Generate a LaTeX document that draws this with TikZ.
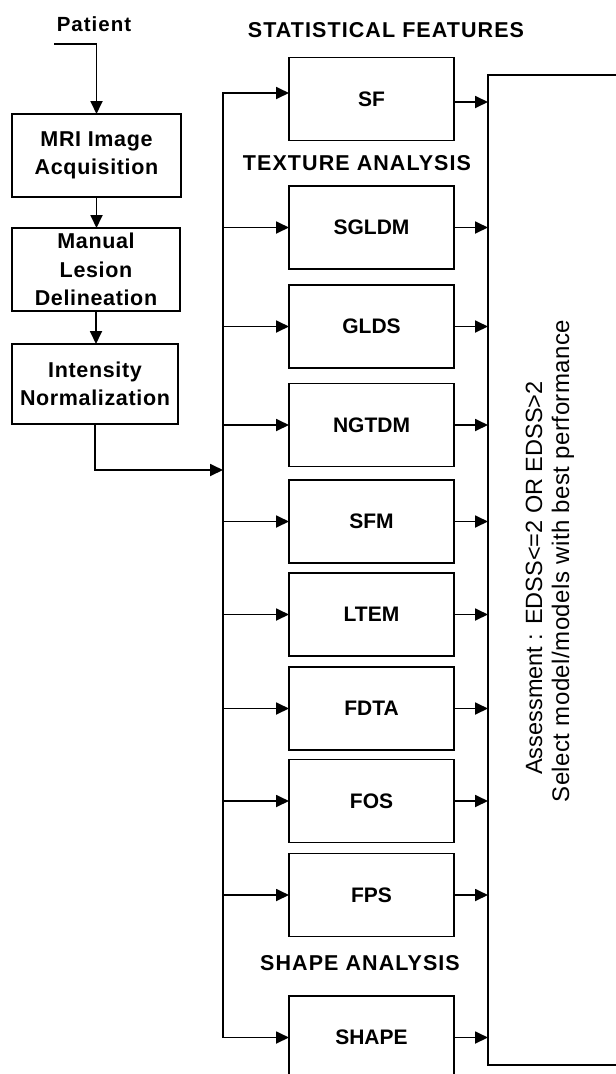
\documentclass[tikz,border=0pt]{standalone}
\usepackage{fontspec}
\setmainfont{Liberation Sans}
\newfontfamily\spacedfont[LetterSpace=5]{Liberation Sans}
\newfontfamily\lsfont[LetterSpace=3]{Liberation Sans}
\newfontfamily\rotfont[LetterSpace=2]{Liberation Sans}
\usetikzlibrary{arrows.meta}
\begin{document}
\begin{tikzpicture}[x=1pt,y=-1pt,
  every node/.style={inner sep=0pt, outer sep=0pt},
  lbox/.style={draw, line width=1.9pt, align=center, font=\lsfont\bfseries\fontsize{21.5}{28.5}\selectfont},
  featbox/.style={draw, line width=1.9pt, minimum width=165pt, minimum height=83pt, font=\bfseries\fontsize{21}{24}\selectfont},
  head/.style={font=\spacedfont\bfseries\fontsize{21.5}{24}\selectfont},
  arr/.style={line width=1.8pt, -{Triangle[length=13pt,width=12pt]}},
  ln/.style={line width=1.8pt}
]
\useasboundingbox (0,0) rectangle (616,1074);
\clip (0,0) rectangle (616,1074);

% left chain
\node[font=\spacedfont\bfseries\fontsize{20.5}{24}\selectfont] (pat) at (94,24) {Patient};
\coordinate (pst) at (54,44);
\node[lbox, minimum width=169pt, minimum height=83pt] (mri) at (96.5,155.5) {MRI Image\\Acquisition};
\node[lbox, minimum width=168pt, minimum height=83pt] (man) at (96,269.5) {Manual\\Lesion\\Delineation};
\node[lbox, minimum width=166pt, minimum height=80pt] (int) at (95,384) {Intensity\\Normalization};

\draw[arr] (pst) -| (mri.north);
\draw[arr] (mri.south) -- (mri.south |- man.north);
\draw[arr] (man.south) -- (man.south |- int.north);

% bus
\coordinate (btop) at (223,93);
\coordinate (bbot) at (223,1037.5);
\coordinate (bin) at (223,470);
\draw[arr] (int.south) |- (bin);

% headings
\node[head] (hstat) at (386,30) {STATISTICAL FEATURES};
\node[head] (htex) at (357,163) {TEXTURE ANALYSIS};
\node[head] (hshape) at (360,963) {SHAPE ANALYSIS};

% feature boxes
\foreach \n/\y/\t in {sf/99/SF, sgldm/227.5/SGLDM, glds/326.5/GLDS, ngtdm/425/NGTDM,
  sfm/521.5/SFM, ltem/614.5/LTEM, fdta/708.5/FDTA, fos/801/FOS, fps/895/FPS, shape/1037.5/SHAPE}
  \node[featbox] (\n) at (371.5,\y) {\t};

% assessment box
\node[draw, line width=1.9pt, minimum width=160pt, minimum height=990pt] (asm) at (568,570) {};
\node[rotate=90, font=\fontsize{23.5}{28}\selectfont] (l1) at (534,578) {Assessment : EDSS<=2 OR EDSS>2};
\node[rotate=90, font=\rotfont\fontsize{24}{28}\selectfont] (l2) at (563,561) {Select model/models with best performance};

% connectors
\draw[arr] (bbot) -- (btop) -- (btop -| sf.west);
\coordinate (sfout) at ([yshift=-3pt]sf.east);
\draw[arr] (sfout) -- (asm.west |- sfout);
\foreach \n in {sgldm,glds,ngtdm,sfm,ltem,fdta,fos,fps,shape} {
  \draw[arr] (btop |- \n.west) -- (\n.west);
  \draw[arr] (\n.east) -- (asm.west |- \n.east);
}
\end{tikzpicture}
\end{document}
